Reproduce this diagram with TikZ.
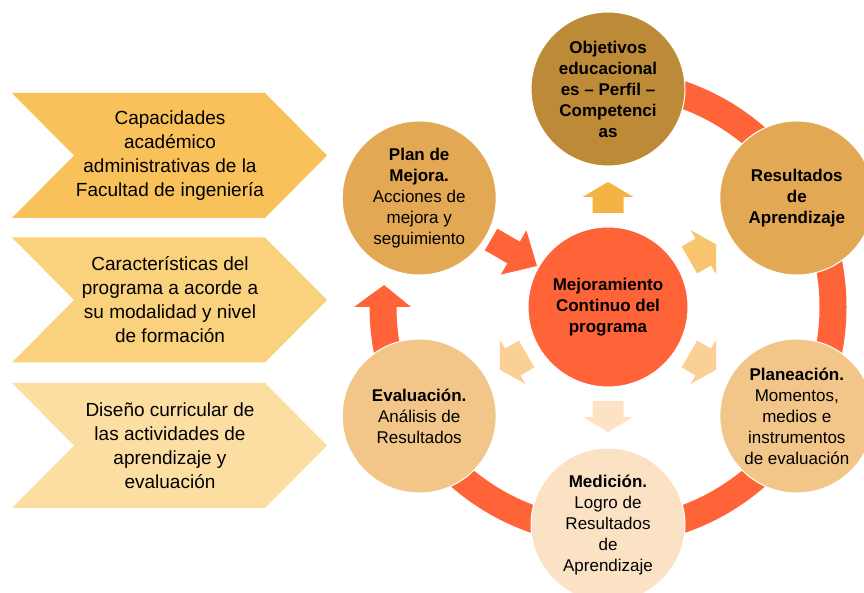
\documentclass[tikz,border=0pt]{standalone}
\usepackage{fontspec}
\setmainfont{Liberation Sans}
\definecolor{ringc}{RGB}{255,99,56}
\definecolor{objc}{RGB}{189,139,56}
\definecolor{resc}{RGB}{226,168,84}
\definecolor{lightc}{RGB}{242,197,137}
\definecolor{medc}{RGB}{252,226,196}
\definecolor{aupc}{RGB}{244,179,66}
\definecolor{aurc}{RGB}{248,196,110}
\definecolor{alrc}{RGB}{250,208,150}
\definecolor{adc}{RGB}{253,226,196}
\definecolor{chevA}{RGB}{249,193,89}
\definecolor{chevB}{RGB}{250,209,124}
\definecolor{chevC}{RGB}{252,222,162}
\begin{document}
\begin{tikzpicture}[x=1pt,y=1pt,
  stage/.style={circle, minimum size=154pt, inner sep=0pt, draw=white, line width=1pt,
    align=center, font=\fontsize{17}{21}\selectfont, text=black},
  chevtext/.style={align=center, font=\fontsize{19}{24}\selectfont, text=black}]
\useasboundingbox (0,0) rectangle (864,593);
% chevrons
\foreach \m/\c in {437.5/chevA, 293/chevB, 147.5/chevC}
  \fill[\c] (12,\m+62.5) -- (265,\m+62.5) -- (327,\m) -- (265,\m-62.5) -- (12,\m-62.5) -- (74,\m) -- cycle;
\node[chevtext] (capa) at (170,437.5) {Capacidades\\académico\\administrativas de la\\Facultad de ingeniería};
\node[chevtext] (cara) at (170,293) {Características del\\programa a acorde a\\su modalidad y nivel\\de formación};
\node[chevtext] (dise) at (170,147.5) {Diseño curricular de\\las actividades de\\aprendizaje y\\evaluación};
\begin{scope}[shift={(608,286)}]
  % ring
  \draw[ringc, line width=27pt] (90:225) arc[start angle=90, end angle=-180, radius=225];
  \fill[ringc] (180:197) -- (174.4:225) -- (180:254) -- cycle;
  % small outward arrows
  \foreach \a/\c in {90/aupc, 30/aurc, -30/alrc, -90/adc, -150/alrc}
    \fill[\c, rotate=\a] (94,-15.5) -- (110,-15.5) -- (110,-25.5) -- (125,0) -- (110,25.5) -- (110,15.5) -- (94,15.5) -- cycle;
  % big arrow from plan to centre
  \fill[ringc, rotate=150] (135,-12.5) -- (109,-12.5) -- (109,-25.5) -- (82,0) -- (109,25.5) -- (109,12.5) -- (135,12.5) -- cycle;
  % circles
  \node[stage, fill=objc] (obj) at (90:218) {\textbf{Objetivos}\\\textbf{educacional}\\\textbf{es – Perfil –}\\\textbf{Competenci}\\\textbf{as}};
  \node[stage, fill=resc] (res) at (30:218) {\textbf{Resultados}\\\textbf{de}\\\textbf{Aprendizaje}};
  \node[stage, fill=lightc] (pla) at (-30:218) {\textbf{Planeación.}\\Momentos,\\medios e\\instrumentos\\de evaluación};
  \node[stage, fill=medc] (med) at (-90:218) {\textbf{Medición.}\\Logro de\\Resultados\\de\\Aprendizaje};
  \node[stage, fill=lightc] (eva) at (-150:218) {\textbf{Evaluación.}\\Análisis de\\Resultados};
  \node[stage, fill=resc] (mej) at (150:218) {\textbf{Plan de}\\\textbf{Mejora.}\\Acciones de\\mejora y\\seguimiento};
  \node[stage, fill=ringc, minimum size=160pt] (cen) at (0,0) {\textbf{Mejoramiento}\\\textbf{Continuo del}\\\textbf{programa}};
\end{scope}
\end{tikzpicture}
\end{document}
